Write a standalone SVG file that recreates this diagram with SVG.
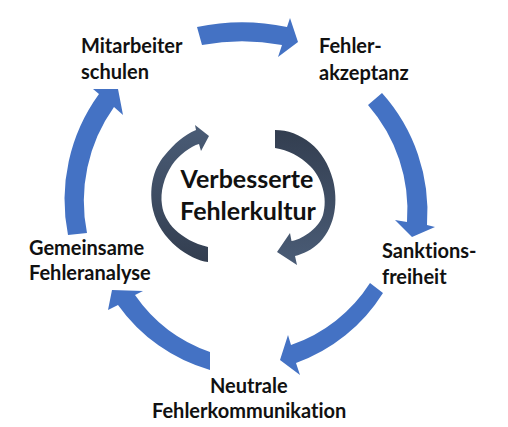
<svg xmlns="http://www.w3.org/2000/svg" width="508" height="427" viewBox="0 0 508 427">
  <defs>
    <style>
      .lbl { font-family: "Lato", "Liberation Sans", sans-serif; font-weight: 700; font-size: 20px; fill: #111111; font-variant-ligatures: none; font-feature-settings: "liga" 0, "clig" 0; }
      .ctr { font-family: "Lato", "Liberation Sans", sans-serif; font-weight: 700; font-size: 25px; fill: #111111; text-anchor: middle; font-variant-ligatures: none; font-feature-settings: "liga" 0, "clig" 0; }
      .blue { fill: #4472C4; }
    </style>
    <linearGradient id="gL" x1="0" y1="0" x2="0" y2="1">
      <stop offset="0" stop-color="#4A5C76"/>
      <stop offset="1" stop-color="#333E50"/>
    </linearGradient>
    <linearGradient id="gR" x1="0" y1="0" x2="0" y2="1">
      <stop offset="0" stop-color="#333E50"/>
      <stop offset="1" stop-color="#4A5C76"/>
    </linearGradient>
  </defs>
  <rect width="508" height="427" fill="#ffffff"/>

  <g id="connectors">
    <!-- top: Mitarbeiter schulen -> Fehlerakzeptanz -->
    <path class="blue" d="M197,27 A220,220 0 0 1 287,27 L290,18 L298,42 L278,57 L282,45 A220,220 0 0 0 202,45 Z"/>
    <!-- right: Fehlerakzeptanz -> Sanktionsfreiheit -->
    <path class="blue" d="M382,93 A178,178 0 0 1 427,225 L435,227 L412,237 L395,220 L407,222 A160,160 0 0 0 368,105 Z"/>
    <!-- bottom right: Sanktionsfreiheit -> Neutrale Fehlerkommunikation -->
    <path class="blue" d="M383,293 A170,170 0 0 1 296,363 L300,375 L280,360 L288,335 L291,345 A152,152 0 0 0 370,283 Z"/>
    <!-- bottom left: Neutrale Fehlerkommunikation -> Gemeinsame Fehleranalyse -->
    <path class="blue" d="M210,370 A170,170 0 0 1 118,305 L108,310 L112,290 L143,291 L135,295 A152,152 0 0 0 210,352 Z"/>
    <!-- left: Gemeinsame Fehleranalyse -> Mitarbeiter schulen -->
    <path class="blue" d="M68,235 A180,180 0 0 1 99,94 L93,89 L118,89 L123,115 L114,107 A162,162 0 0 0 87,233 Z"/>
    <!-- inner cycle arrows -->
    <path fill="url(#gL)" d="M208,262 C190,260 160,240 153,210 C149,190 152,170 165,155 C174,144 184,135 196,130 L195,125 L209,136 L201,151 L199,144 C191,146 179,155 172,165 C164,177 160,192 162,205 C164,222 180,240 208,247 Z"/>
    <path fill="url(#gR)" d="M275,130 C300,130 325,148 333,180 C338,200 336,225 320,242 C312,250 303,254 295,256 L297,265 L277,252 L290,233 L291.5,241 C300,240 318,230 323,215 C328,198 322,178 310,166 C300,156 288,150 275,148 Z"/>
  </g>

  <g id="node-mitarbeiter">
    <text class="lbl" x="81" y="52.5">Mitarbeiter</text>
    <text class="lbl" x="81" y="78.5">schulen</text>
  </g>
  <g id="node-fehlerakzeptanz">
    <text class="lbl" x="319" y="53">Fehler-</text>
    <text class="lbl" x="319" y="79.5">akzeptanz</text>
  </g>
  <g id="node-sanktionsfreiheit">
    <text class="lbl" x="382" y="258">Sanktions-</text>
    <text class="lbl" x="382" y="284">freiheit</text>
  </g>
  <g id="node-neutrale">
    <text class="lbl" x="210" y="393">Neutrale</text>
    <text class="lbl" x="152" y="418">Fehlerkommunikation</text>
  </g>
  <g id="node-gemeinsame">
    <text class="lbl" x="29" y="255">Gemeinsame</text>
    <text class="lbl" x="29" y="280">Fehleranalyse</text>
  </g>
  <g id="node-center">
    <text class="ctr" x="247" y="188">Verbesserte</text>
    <text class="ctr" x="248" y="220">Fehlerkultur</text>
  </g>
</svg>
